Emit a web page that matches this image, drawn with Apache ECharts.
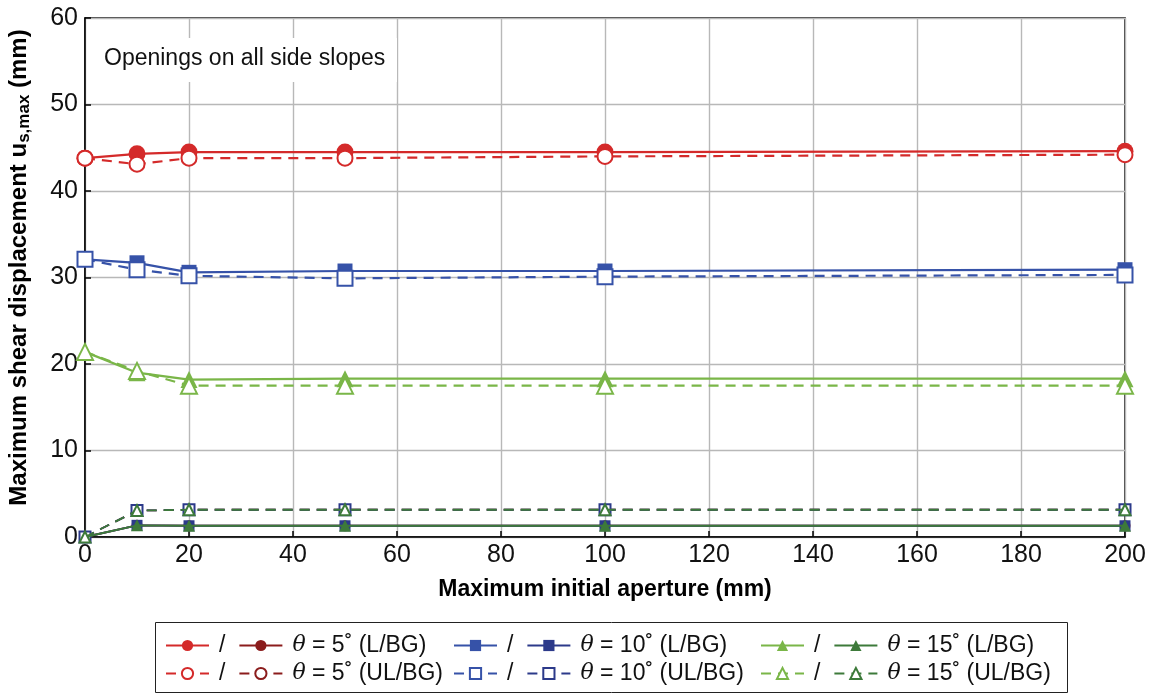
<!DOCTYPE html>
<html><head><meta charset="utf-8">
<script src="https://cdn.jsdelivr.net/npm/echarts@6/dist/echarts.min.js"></script>
<style>html,body{margin:0;padding:0;background:#fff}#c{width:1151px;height:693px}</style>
</head><body><div id="c"></div>
<script>
const apertures = [0, 10, 20, 50, 100, 200];
const xTicks = [0, 20, 40, 60, 80, 100, 120, 140, 160, 180, 200];
const yTicks = [0, 10, 20, 30, 40, 50, 60];
// bright (large marker) series
const t5L_a  = [43.8, 44.3, 44.5, 44.5, 44.5, 44.6];
const t5UL_a = [43.8, 43.1, 43.8, 43.8, 44.0, 44.2];
const t10L_a  = [32.1, 31.7, 30.6, 30.75, 30.75, 30.9];
const t10UL_a = [32.1, 30.9, 30.2, 29.9, 30.1, 30.3];
const t15L_a  = [21.4, 19.0, 18.2, 18.3, 18.3, 18.3];
const t15UL_a = [21.4, 19.2, 17.5, 17.5, 17.5, 17.5];
// dark (small marker) series
const t5L_b  = [0, 1.35, 1.3, 1.3, 1.3, 1.3];
const t5UL_b = [0, 3.05, 3.15, 3.15, 3.15, 3.15];
const t10L_b  = [0, 1.35, 1.3, 1.3, 1.3, 1.3];
const t10UL_b = [0, 3.05, 3.15, 3.15, 3.15, 3.15];
const t15L_b  = [0, 1.35, 1.3, 1.3, 1.3, 1.3];
const t15UL_b = [0, 3.05, 3.15, 3.15, 3.15, 3.15];

const C = {r:'#d42a2a', rd:'#8b1c1c', b:'#3652a8', bd:'#2c3a8a', g:'#7ab648', gd:'#3d7a3a'};
const pts = ys => apertures.map((x,i)=>[x, ys[i]]);

function mk(name, ys, color, symbol, size, dashed, z){
  const hollow = symbol.startsWith('empty');
  return {
    name, type:'line', data: pts(ys), symbol, symbolSize:size, z,
    lineStyle:{color, width: size>12?2.2:1.8, type: dashed?[10,7]:'solid'},
    itemStyle:{color, borderColor:color, borderWidth: hollow?(size>12?2.5:1.6):0},
    emphasis:{disabled:true}, animation:false
  };
}
const series = [
  mk('5L_a', t5L_a, C.r, 'circle', 17, false, 2),
  mk('5UL_a', t5UL_a, C.r, 'emptyCircle', 15, true, 3),
  mk('10L_a', t10L_a, C.b, 'rect', 15, false, 2),
  mk('10UL_a', t10UL_a, C.b, 'emptyRect', 15, true, 3),
  mk('15L_a', t15L_a, C.g, 'triangle', 17, false, 2),
  mk('15UL_a', t15UL_a, C.g, 'emptyTriangle', 16, true, 3),
  mk('5L_b', t5L_b, C.rd, 'circle', 11, false, 4),
  mk('5UL_b', t5UL_b, C.rd, 'emptyCircle', 10, true, 4),
  mk('10L_b', t10L_b, C.bd, 'rect', 11, false, 5),
  mk('10UL_b', t10UL_b, C.bd, 'emptyRect', 11, true, 5),
  mk('15L_b', t15L_b, C.gd, 'triangle', 12, false, 6),
  mk('15UL_b', t15UL_b, C.gd, 'emptyTriangle', 11, true, 6)
];
const labels = {
  '5L_b':'{i|θ} = 5˚ (L/BG)', '10L_b':'{i|θ} = 10˚ (L/BG)', '15L_b':'{i|θ} = 15˚ (L/BG)',
  '5UL_b':'{i|θ} = 5˚ (UL/BG)', '10UL_b':'{i|θ} = 10˚ (UL/BG)', '15UL_b':'{i|θ} = 15˚ (UL/BG)'
};
const FONT = 'Liberation Sans, Arial, Helvetica';
function lg(left, top, a, b){
  return {
    left, top, data:[a, b], itemWidth: 43, itemHeight: 14, itemGap: 13, selectedMode:false, padding:0,
    textStyle:{fontFamily:FONT, fontSize:23, color:'#111', padding:[0,0,0,5],
      rich:{i:{fontStyle:'italic', fontFamily:'DejaVu Serif', fontSize:22, color:'#111'}}},
    formatter: n => labels[n] || '/'
  };
}
const chart = echarts.init(document.getElementById('c'), null, {renderer:'canvas'});
chart.setOption({
  backgroundColor:'#fff', animation:false,
  grid:{left:85, right:26, top:18, bottom:156, show:true, borderColor:'#000', borderWidth:1.5,
    containLabel:false, outerBoundsMode:'none'},
  xAxis:{type:'value', min:0, max:200, interval:20,
    name:'Maximum initial aperture (mm)', nameLocation:'middle', nameGap:41,
    nameTextStyle:{fontFamily:FONT, fontWeight:'bold', fontSize:23, color:'#000'},
    axisLine:{lineStyle:{color:'#000', width:1.5}},
    axisTick:{inside:true, length:6, lineStyle:{color:'#000', width:1.5}},
    axisLabel:{fontFamily:FONT, fontSize:25, color:'#111', margin:6,
      formatter: v => xTicks.includes(v) ? String(v) : ''},
    splitLine:{show:true, lineStyle:{color:'#b8b8b8', width:1.4}}
  },
  yAxis:{type:'value', min:0, max:60, interval:10,
    name:'Maximum shear displacement u{sub|s,max} (mm)', nameLocation:'middle', nameGap:52,
    nameTextStyle:{fontFamily:FONT, fontWeight:'bold', fontSize:24, color:'#000', padding:[0,0,0,20],
      rich:{sub:{fontFamily:FONT, fontWeight:'bold', fontSize:17, color:'#000', verticalAlign:'bottom', padding:[10,0,0,0]}}},
    axisLine:{lineStyle:{color:'#000', width:1.5}},
    axisTick:{inside:true, length:6, lineStyle:{color:'#000', width:1.5}},
    axisLabel:{fontFamily:FONT, fontSize:25, color:'#111', margin:7,
      formatter: v => yTicks.includes(v) ? String(v) : ''},
    splitLine:{show:true, lineStyle:{color:'#b8b8b8', width:1.4}}
  },
  legend:[
    lg(165, 634, '5L_a', '5L_b'),
    lg(453, 634, '10L_a', '10L_b'),
    lg(760, 634, '15L_a', '15L_b'),
    lg(165, 662, '5UL_a', '5UL_b'),
    lg(453, 662, '10UL_a', '10UL_b'),
    lg(760, 662, '15UL_a', '15UL_b')
  ],
  graphic:[
    {type:'rect', left:153, top:620, shape:{width:912, height:70}, style:{fill:'none', stroke:'#222', lineWidth:1}, z:1},
    {type:'rect', left:92, top:38, shape:{width:305, height:44}, style:{fill:'#fff'}, z:50},
    {type:'text', left:104, top:47, style:{text:'Openings on all side slopes', fontFamily:FONT, fontSize:23, fill:'#111'}, z:51}
  ],
  series
});
</script></body></html>
